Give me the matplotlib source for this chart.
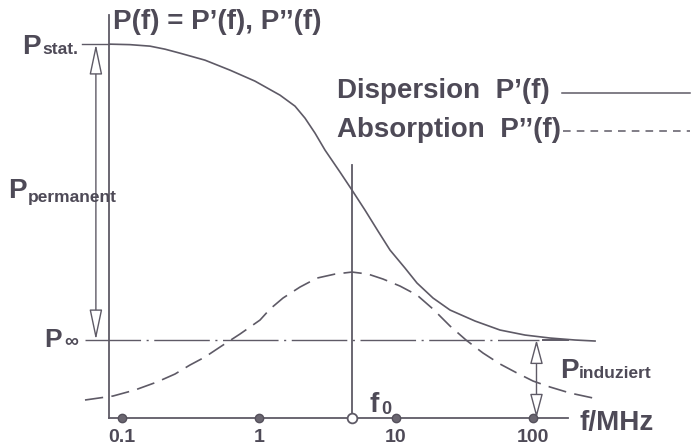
import numpy as np
import matplotlib
matplotlib.use('Agg')
import matplotlib.pyplot as plt
from matplotlib import font_manager

# Werte (f in MHz, P normiert: Achse = 0, P_stat = 1)
f_disp = [0.0817, 0.1144, 0.1601, 0.206, 0.2651, 0.4035, 0.6141, 0.935, 1.4235, 1.8316,
          2.167, 2.564, 3.033, 3.902, 4.774, 5.938, 7.389, 9.042, 11.63, 14.23,
          18.63, 24.79, 37.73, 57.43, 87.43, 133.1, 202.6, 283.6]
p_disp = [1.000, 0.9987, 0.9947, 0.9866, 0.9759, 0.9572, 0.9305, 0.9011, 0.8636, 0.8342,
          0.8021, 0.7620, 0.7166, 0.6578, 0.6096, 0.5561, 0.5000, 0.4492, 0.4011, 0.3610,
          0.3209, 0.2888, 0.2594, 0.2353, 0.2219, 0.2139, 0.2086, 0.2059]

f_abs = [0.0537, 0.086, 0.1244, 0.1801, 0.2437, 0.3135, 0.4035, 0.5192, 0.7265, 1.017,
         1.203, 1.497, 1.992, 2.651, 3.587, 4.774, 6.246, 8.037, 10.70, 14.23,
         18.63, 24.79, 32.43, 43.15, 57.43, 76.42, 100.0, 133.1, 186.2, 274.2]
p_abs = [0.0481, 0.0588, 0.0749, 0.0963, 0.1176, 0.1417, 0.1631, 0.1898, 0.2246, 0.2620,
         0.2914, 0.3209, 0.3503, 0.3743, 0.3850, 0.3904, 0.3850, 0.3717, 0.3529, 0.3289,
         0.2914, 0.2460, 0.2086, 0.1738, 0.1444, 0.1203, 0.0989, 0.0829, 0.0668, 0.0535]

p_stat = 1.0
p_inf = 0.209
f0 = 4.8
tick_f = [0.1, 1, 10, 100]
tick_lab = ['0.1', '1', '10', '100']

names = {f.name for f in font_manager.fontManager.ttflist}
fam = ['Liberation Sans Narrow'] if 'Liberation Sans Narrow' in names else []
fam = fam + ['Liberation Sans', 'DejaVu Sans']
plt.rcParams['font.family'] = fam

lc = '#5e5a66'   # Linienfarbe
tc = '#4e4a57'   # Textfarbe

fig = plt.figure(figsize=(6.91, 4.48), dpi=100)
ax = fig.add_axes([109/691, 30/448, 459/691, 403/448])
ax.set_xscale('log')
ax.set_xlim(0.0804, 180)
ax.set_ylim(0, 1.078)

for s in ['top', 'right']:
    ax.spines[s].set_visible(False)
for s in ['left', 'bottom']:
    ax.spines[s].set_color(lc)
    ax.spines[s].set_linewidth(1.3)

ax.set_xticks(tick_f)
ax.set_xticklabels(tick_lab, fontsize=14, fontweight='bold', color=tc)
ax.xaxis.set_minor_locator(matplotlib.ticker.NullLocator())
ax.tick_params(axis='x', length=0, pad=8)
ax.set_yticks([])

# Kurven
ax.plot(f_disp, p_disp, color=lc, lw=1.2, clip_on=False)
ax.plot(f_abs, p_abs, color=lc, lw=1.2, dashes=(11, 5), clip_on=False)

# P_inf Linie (Strich-Punkt) und durchgezogenes Stück rechts
ax.plot([0.0537, 110], [p_inf, p_inf], color=lc, lw=1.0, dashes=(40, 4, 1.5, 4), clip_on=False)
ax.plot([118, 180], [p_inf, p_inf], color=lc, lw=1.4, clip_on=False)
# P_stat kurzer Strich
ax.plot([0.051, 0.0804], [p_stat, p_stat], color=lc, lw=1.0, clip_on=False)

# f0 Linie
ax.plot([f0, f0], [0, 0.676], color=lc, lw=1.3, clip_on=False)
ax.plot(tick_f, [0]*4, 'o', ms=6, color='#6a6670', mec='#55515c', clip_on=False, zorder=5)
ax.plot([f0], [0], 'o', ms=7, mfc='white', mec=lc, mew=1.3, clip_on=False, zorder=6)

# Doppelpfeile
arr = dict(arrowstyle='<|-|>,head_length=1.9,head_width=0.4', fc='white', ec=lc, lw=1.0,
           shrinkA=0, shrinkB=0, mutation_scale=10)
ax.annotate('', xy=(0.0645, p_stat), xytext=(0.0645, p_inf), arrowprops=arr, annotation_clip=False)
arr2 = dict(arr, arrowstyle='<|-|>,head_length=1.5,head_width=0.4')
ax.annotate('', xy=(106, p_inf), xytext=(106, 0), arrowprops=arr2, annotation_clip=False)

# Beschriftungen (Pixelposition im Bild)
def px(x, y, s, size, **k):
    fig.text(x/691, 1 - y/448, s, fontsize=size, color=tc, fontweight='bold',
             va='baseline', **k)

px(113, 29, 'P(f) = P’(f), P’’(f)', 20)
px(22, 54, 'P', 20)
px(42, 54, 'stat.', 12.5)
px(8, 198, 'P', 20)
px(28, 202, 'permanent', 12.5)
px(44, 347, 'P', 19)
px(64, 347, '∞', 14)
px(337, 98, 'Dispersion  P’(f)', 20)
px(337, 137, 'Absorption  P’’(f)', 20)
px(560, 378, 'P', 20)
px(579, 378, 'induziert', 12.5)
px(370, 412, 'f', 20)
px(381, 414, '0', 13)
px(580, 430, 'f/MHz', 20)

# Legendenlinien
fig.add_artist(plt.Line2D([562/691, 690/691], [1-93/448, 1-93/448], color=lc, lw=1.1))
fig.add_artist(plt.Line2D([563/691, 690/691], [1-131/448, 1-131/448], color=lc, lw=1.1, dashes=(5, 4)))

fig.savefig('out.png', dpi=100)
